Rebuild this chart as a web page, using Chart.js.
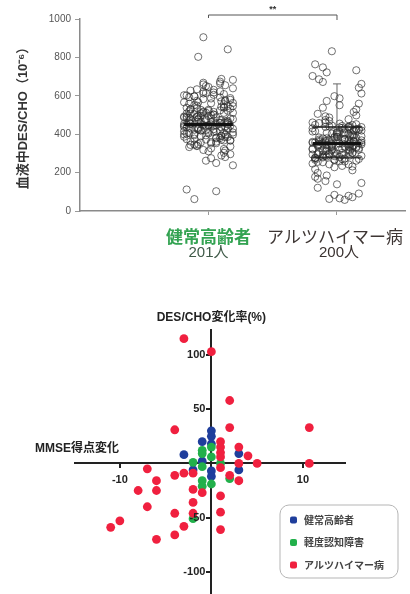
<!DOCTYPE html>
<html>
<head>
<meta charset="utf-8">
<script src="https://cdn.jsdelivr.net/npm/chart.js@4"></script>
<style>
  html, body { margin: 0; padding: 0; background: #fff; overflow: hidden; }
  #top { position: absolute; left: 0; top: 0; width: 410px; height: 270px; }
  #bottom { position: absolute; left: 0; top: 270px; width: 410px; height: 329px; }
</style>
</head>
<body>
<div id="top"><canvas id="c1"></canvas></div>
<div id="bottom"><canvas id="c2"></canvas></div>
<script>
// ---- top chart: plasma DES/CHO per group ----
const GROUPS = ['健常高齢者', 'アルツハイマー病'];
const GROUP_N = ['201人', '200人'];
const Y_TICKS = [0, 200, 400, 600, 800, 1000];
const MEDIAN = [450, 352];
const IQR_AD = [278, 437];
const UPPER_BAR_AD = 662;

const HEALTHY = [
  112, 103, 905, 842, 62, 238, 803,
  452, 511, 387, 623, 468, 344, 579, 496, 412, 655,
  433, 527, 371, 489, 602, 458, 318, 547, 401, 683,
  476, 359, 538, 444, 592, 421, 507, 296, 466, 631,
  385, 519, 447, 571, 338, 493, 414, 668, 462, 552,
  397, 481, 326, 609, 438, 524, 372, 456, 588, 419,
  503, 281, 471, 646, 392, 535, 449, 361, 514, 427,
  597, 478, 349, 561, 408, 492, 674, 443, 529, 366,
  455, 617, 398, 486, 311, 543, 431, 508, 379, 583,
  461, 423, 639, 497, 352, 556, 416, 474, 262, 532,
  445, 389, 605, 467, 333, 521, 436, 574, 403, 488,
  659, 451, 377, 546, 425, 499, 303, 566, 459, 394,
  627, 482, 357, 516, 439, 593, 411, 473, 341, 538,
  448, 612, 386, 505, 428, 566, 463, 323, 487, 417,
  651, 454, 369, 527, 442, 578, 406, 494, 289, 549,
  437, 383, 621, 470, 346, 512, 429, 586, 458, 399,
  664, 476, 362, 533, 420, 501, 315, 559, 444, 391,
  634, 485, 353, 518, 432, 597, 409, 466, 275, 541,
  453, 380, 615, 479, 336, 509, 426, 572, 461, 404,
  688, 490, 374, 250, 447, 522, 395, 563, 434, 481,
  367, 603, 459, 512
];

const ALZHEIMER = [
  764, 58, 832, 733, 748, 662, 722, 66, 72, 703, 79, 84, 686, 91, 63,
  352, 418, 297, 386, 331, 462, 274, 405, 348, 529,
  311, 437, 366, 259, 391, 325, 478, 286, 359, 422,
  243, 374, 341, 506, 298, 431, 356, 218, 397, 322,
  452, 279, 368, 345, 587, 304, 414, 337, 265, 383,
  319, 441, 292, 361, 198, 408, 349, 493, 276, 376,
  333, 427, 254, 389, 314, 551, 301, 355, 439, 268,
  372, 327, 469, 235, 394, 343, 411, 289, 363, 178,
  426, 316, 381, 352, 612, 283, 435, 339, 247, 402,
  307, 458, 271, 369, 325, 516, 295, 387, 358, 156,
  416, 334, 445, 262, 378, 347, 573, 281, 399, 321,
  436, 228, 365, 353, 487, 302, 421, 338, 139, 392,
  311, 449, 273, 371, 329, 538, 287, 407, 351, 212,
  431, 318, 382, 344, 642, 296, 443, 362, 256, 397,
  308, 474, 267, 375, 336, 424, 284, 356, 185, 412,
  327, 461, 243, 386, 349, 559, 299, 433, 366, 168,
  404, 315, 438, 277, 373, 342, 498, 293, 419, 326,
  455, 232, 360, 347, 598, 306, 428, 339, 271, 385,
  121, 364, 441, 288, 357, 258, 403, 334, 672, 146,
  379, 318, 447, 294, 368
];

// horizontal spread of the dots around each group centre
const JITTER = [-0.17, 0.06, -0.04, 0.15, -0.11, 0.19, -0.08, 0.02, 0.12, -0.19,
                0.09, -0.02, -0.14, 0.17, -0.06, 0.04, 0.13, -0.15, 0.0, 0.1, -0.09];

// ---- bottom chart: change of DES/CHO vs change of MMSE ----
const LEGEND = ['健常高齢者', '軽度認知障害', 'アルツハイマー病'];
const COLORS = ['#1f3e9c', '#22b04b', '#f0203f'];
const X_TICKS = [-10, 10];
const Y_TICKS2 = [-100, -50, 50, 100];

const NORMAL_X = [-3, -1, 0, 0, 0, -1, -2, 0, 0, 3, 3];
const NORMAL_Y = [8, 20, 30, 25, 18, 2, -6, -7, -12, 9, -6];

const MCI_X = [-2, -1, -1, 0, 0, -1, 1, -1, -1, 0, 2, -2];
const MCI_Y = [1, 9, 12, 15, 6, -3, 0, -16, -21, -19, -14, -51];

const AD_X = [-3, 0, 2, 2, -4, 10.7, -7, -4, -3, -2, 1, 1, 1, 1, 3, 4, 3, 5, 10.7, 1,
              2, 3, -6, -6, -8, -2, -1, 1, -2, -7, -4, -2, 1, -10, -11, -3, -4, -6, 1];
const AD_Y = [115, 103, 58, 33, 31, 33, -5, -11, -9, -9, 20, 15, 10, 6, 15, 7, 0, 0, 0, -4,
              -11, -16, -16, -25, -25, -24, -27, -30, -36, -40, -46, -46, -45, -53, -59, -58, -66, -70, -61];

const FONT = "'Liberation Sans', 'Noto Sans CJK JP', sans-serif";
const JP = "'Noto Sans CJK JP', sans-serif";

function jittered(values, centre) {
  return values.map((v, i) => ({ x: centre + JITTER[i % JITTER.length], y: v }));
}
function pairs(xs, ys) {
  return xs.map((x, i) => ({ x: x, y: ys[i] }));
}
function seg(ctx, x1, y1, x2, y2) {
  ctx.beginPath();
  ctx.moveTo(x1, y1);
  ctx.lineTo(x2, y2);
  ctx.stroke();
}

const topDecor = {
  id: 'topDecor',
  afterDatasetsDraw(chart) {
    const { ctx, scales: { x, y } } = chart;
    const half = x.getPixelForValue(1.19) - x.getPixelForValue(1);
    ctx.save();
    ctx.strokeStyle = '#111';
    MEDIAN.forEach((m, i) => {
      const cx = x.getPixelForValue(i + 1);
      ctx.lineWidth = 3;
      seg(ctx, cx - half, y.getPixelForValue(m), cx + half, y.getPixelForValue(m));
    });
    const cx2 = x.getPixelForValue(2);
    ctx.lineWidth = 2;
    ctx.strokeStyle = 'rgba(30,30,30,0.8)';
    IQR_AD.forEach(q => seg(ctx, cx2 - half, y.getPixelForValue(q), cx2 + half, y.getPixelForValue(q)));
    ctx.lineWidth = 1;
    ctx.strokeStyle = '#666';
    seg(ctx, cx2, y.getPixelForValue(IQR_AD[1]), cx2, y.getPixelForValue(UPPER_BAR_AD));
    seg(ctx, cx2 - 4, y.getPixelForValue(UPPER_BAR_AD), cx2 + 4, y.getPixelForValue(UPPER_BAR_AD));
    ctx.restore();
  },
  afterDraw(chart) {
    const { ctx, scales: { x }, chartArea } = chart;
    const x1 = x.getPixelForValue(1), x2 = x.getPixelForValue(2);
    ctx.save();
    // significance bracket
    const by = chartArea.top - 4;
    ctx.strokeStyle = '#555';
    ctx.lineWidth = 1;
    ctx.beginPath();
    ctx.moveTo(x1, by + 3);
    ctx.lineTo(x1, by);
    ctx.lineTo(x2, by);
    ctx.lineTo(x2, by + 5);
    ctx.stroke();
    ctx.fillStyle = '#333';
    ctx.font = 'bold 9px ' + FONT;
    ctx.textAlign = 'center';
    ctx.textBaseline = 'middle';
    ctx.fillText('**', (x1 + x2) / 2, by - 5);
    // category labels
    const ly = chartArea.bottom + 26;
    ctx.font = 'bold 17px ' + JP;
    ctx.fillStyle = '#33a352';
    ctx.fillText(GROUPS[0], x1, ly);
    ctx.font = '17px ' + JP;
    ctx.fillStyle = '#3e3634';
    ctx.textAlign = 'left';
    ctx.fillText(GROUPS[1], x2 - 70, ly);
    ctx.textAlign = 'center';
    ctx.font = '15px ' + FONT;
    ctx.fillStyle = '#3f5a48';
    ctx.fillText(GROUP_N[0], x1, ly + 16);
    ctx.fillStyle = '#3a3230';
    ctx.fillText(GROUP_N[1], x2 + 2, ly + 16);
    ctx.restore();
  }
};

new Chart(document.getElementById('c1'), {
  type: 'scatter',
  data: {
    datasets: [
      { label: GROUPS[0], data: jittered(HEALTHY, 1) },
      { label: GROUPS[1], data: jittered(ALZHEIMER, 2) }
    ]
  },
  options: {
    animation: false,
    responsive: true,
    maintainAspectRatio: false,
    layout: { padding: { top: 19, left: 0, right: 0, bottom: 0 } },
    elements: {
      point: {
        radius: 3.6,
        borderWidth: 0.9,
        borderColor: 'rgba(45,45,45,0.75)',
        backgroundColor: 'rgba(255,255,255,0)'
      }
    },
    plugins: { legend: { display: false }, tooltip: { enabled: false } },
    scales: {
      x: {
        type: 'linear',
        min: 0,
        max: 2.53,
        afterBuildTicks: a => { a.ticks = [1, 2].map(v => ({ value: v })); },
        afterFit: s => { s.height = 59; },
        grid: { drawOnChartArea: false, tickLength: 4, color: '#999' },
        border: { color: '#8a8a8a', width: 1.5 },
        ticks: { callback: () => '' }
      },
      y: {
        min: 0,
        max: 1000,
        afterBuildTicks: a => { a.ticks = Y_TICKS.map(v => ({ value: v })); },
        afterFit: s => { s.width = 80; },
        grid: { drawOnChartArea: false, tickLength: 5, color: '#999' },
        border: { color: '#8a8a8a', width: 1.5 },
        ticks: { font: { family: FONT, size: 10 }, color: '#555', padding: 4, callback: v => String(v) },
        title: {
          display: true,
          text: '血液中DES/CHO（10⁻⁶）',
          font: { family: FONT, size: 13, weight: 'bold' },
          color: '#333',
          padding: { top: 16, bottom: 0 }
        }
      }
    }
  },
  plugins: [topDecor]
});

const bottomDecor = {
  id: 'bottomDecor',
  afterDraw(chart) {
    const { ctx, scales: { x, y } } = chart;
    const ax = x.getPixelForValue(0);
    ctx.save();
    ctx.fillStyle = '#222';
    ctx.font = 'bold 11px ' + FONT;
    ctx.textBaseline = 'middle';
    ctx.textAlign = 'right';
    Y_TICKS2.forEach(v => ctx.fillText(String(v), ax - 6, y.getPixelForValue(v)));
    ctx.font = 'bold 12px ' + FONT;
    ctx.textAlign = 'center';
    ctx.fillText('DES/CHO変化率(%)', ax, 48);
    ctx.textAlign = 'left';
    ctx.fillText('MMSE得点変化', 35, y.getPixelForValue(0) - 15);

    // legend box
    const bx = 280, bw = 118, byTop = 235, bh = 73, r = 9;
    ctx.strokeStyle = '#b5b5b5';
    ctx.lineWidth = 1;
    ctx.beginPath();
    ctx.roundRect(bx, byTop, bw, bh, r);
    ctx.stroke();
    ctx.font = 'bold 10px ' + JP;
    LEGEND.forEach((name, i) => {
      const ry = byTop + 15 + i * 22.5;
      ctx.fillStyle = COLORS[i];
      ctx.beginPath();
      ctx.roundRect(bx + 10, ry - 3.5, 7, 7, 2);
      ctx.fill();
      ctx.fillStyle = '#444';
      ctx.fillText(name, bx + 24, ry);
    });
    ctx.restore();
  }
};

const dot = { pointRadius: 4.4, pointBorderWidth: 0 };

new Chart(document.getElementById('c2'), {
  type: 'scatter',
  data: {
    datasets: [
      Object.assign({ label: LEGEND[2], data: pairs(AD_X, AD_Y), backgroundColor: COLORS[2] }, dot),
      Object.assign({ label: LEGEND[1], data: pairs(MCI_X, MCI_Y), backgroundColor: COLORS[1] }, dot),
      Object.assign({ label: LEGEND[0], data: pairs(NORMAL_X, NORMAL_Y), backgroundColor: COLORS[0] }, dot)
    ]
  },
  options: {
    animation: false,
    responsive: true,
    maintainAspectRatio: false,
    layout: { padding: { left: 75, right: 65, top: 60, bottom: 0 } },
    plugins: { legend: { display: false }, tooltip: { enabled: false } },
    scales: {
      x: {
        type: 'linear',
        min: -14.9,
        max: 14.6,
        position: { y: 0 },
        afterBuildTicks: a => { a.ticks = X_TICKS.map(v => ({ value: v })); },
        grid: { drawOnChartArea: false, tickLength: 4, color: '#222', lineWidth: 2 },
        border: { color: '#222', width: 2 },
        ticks: { font: { family: FONT, size: 11, weight: 'bold' }, color: '#222', padding: 6 }
      },
      y: {
        min: -121,
        max: 123,
        position: { x: 0 },
        afterBuildTicks: a => { a.ticks = Y_TICKS2.map(v => ({ value: v })); },
        grid: { drawOnChartArea: false, tickLength: 4, color: '#222', lineWidth: 2 },
        border: { color: '#222', width: 2 },
        ticks: { display: false }
      }
    }
  },
  plugins: [bottomDecor]
});
</script>
</body>
</html>
